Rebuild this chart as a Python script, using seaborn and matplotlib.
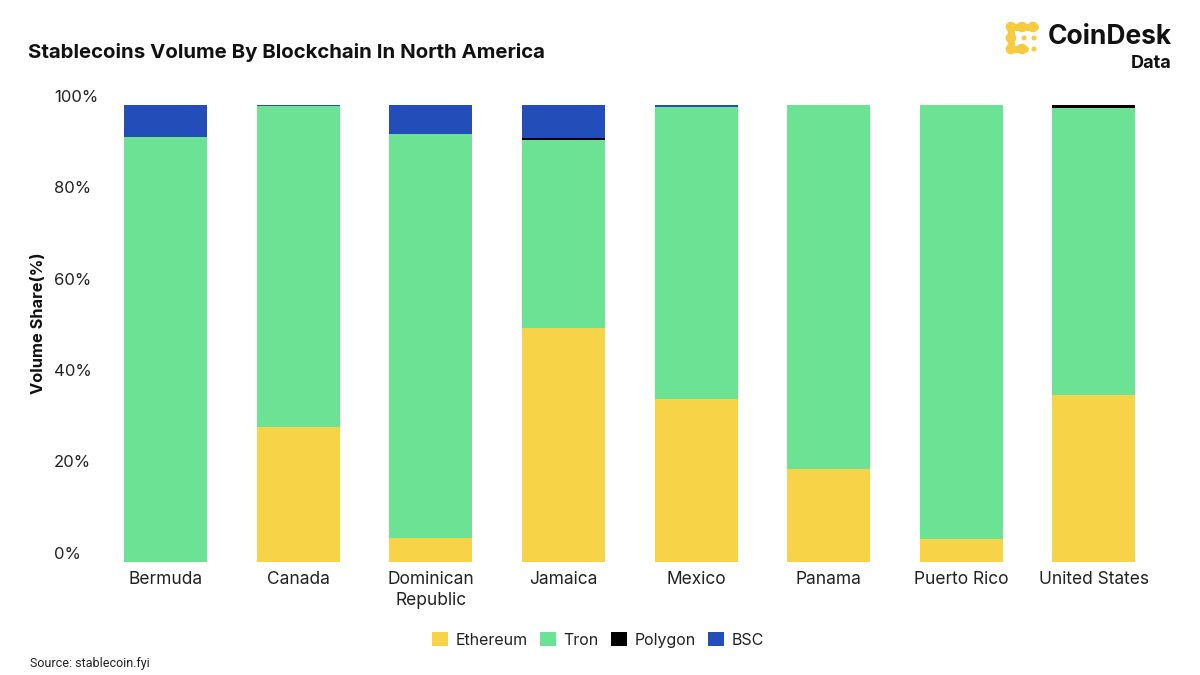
import matplotlib
matplotlib.use("Agg")
import matplotlib.pyplot as plt
import seaborn as sns
import pandas as pd
from matplotlib.patches import Patch, Circle
from matplotlib.transforms import ScaledTranslation
from matplotlib.ticker import FixedLocator, FuncFormatter

# ---------------- data ----------------
countries = ["Bermuda", "Canada", "Dominican\nRepublic", "Jamaica", "Mexico",
             "Panama", "Puerto Rico", "United States"]
ethereum = [0.0, 29.5, 5.2, 51.2, 35.6, 20.2, 4.9, 36.6]
tron = [92.9, 70.2, 88.4, 41.1, 64.0, 79.8, 95.1, 62.7]
polygon = [0.0, 0.0, 0.0, 0.4, 0.0, 0.0, 0.0, 0.6]
bsc = [7.1, 0.3, 6.4, 7.3, 0.4, 0.0, 0.0, 0.1]
series_names = ["Ethereum", "Tron", "Polygon", "BSC"]
series_colors = ["#F7D348", "#6CE294", "#000000", "#234DB8"]
y_ticks = [0, 20, 40, 60, 80, 100]

sns.set_theme(style="white")
plt.rcParams["font.family"] = ["Inter", "DejaVu Sans"]

W, H = 1200, 675
fig = plt.figure(figsize=(W / 100, H / 100), dpi=100)
fig.patch.set_facecolor("white")

ax_left, ax_right = 99.2, 1160.3
ax_top, ax_bottom = 105.0, 561.7
ax = fig.add_axes([ax_left / W, 1 - ax_bottom / H,
                   (ax_right - ax_left) / W, (ax_bottom - ax_top) / H])

df = pd.DataFrame({"country": countries, "Ethereum": ethereum, "Tron": tron,
                   "Polygon": polygon, "BSC": bsc})

bottom = [0.0] * len(countries)
for name, col in zip(series_names, series_colors):
    vals = df[name].tolist()
    sns.barplot(data=df, x="country", y=name, order=countries, color=col,
                width=0.626, bottom=bottom, linewidth=0, saturation=1,
                ax=ax)
    bottom = [b + v for b, v in zip(bottom, vals)]

ax.set_xlim(-0.5, len(countries) - 0.5)
ax.set_ylim(0, 100)
for s in ax.spines.values():
    s.set_visible(False)
ax.grid(False)
ax.set_xlabel("")

# y ticks
ax.yaxis.set_major_locator(FixedLocator(y_ticks))
ax.yaxis.set_major_formatter(FuncFormatter(lambda v, p: f"{int(v)}%"))
ax.tick_params(axis="y", length=0, pad=(ax_left - 54) * 0.72,
               labelsize=12, labelcolor="#222222")
ax.tick_params(axis="x", length=0, pad=7, labelsize=12.5, labelcolor="#222222")
for lab in ax.get_yticklabels():
    lab.set_horizontalalignment("left")
    lab.set_transform(lab.get_transform() +
                      ScaledTranslation(0, 9 / 100, fig.dpi_scale_trans))
for lab in ax.get_xticklabels():
    lab.set_linespacing(1.25)

ax.set_ylabel("Volume Share(%)", fontsize=11.8, fontweight="bold",
              color="#111111", va="center")
ax.yaxis.set_label_coords((39 - ax_left) / (ax_right - ax_left),
                          (ax_bottom - 323) / (ax_bottom - ax_top))

# title
fig.text(28 / W, 1 - 52 / H, "Stablecoins Volume By Blockchain In North America",
         fontsize=14.7, fontweight="bold", color="#111111", ha="left", va="center")

# legend
handles = [Patch(facecolor=c, edgecolor="none", label=n)
           for n, c in zip(series_names, series_colors)]
fig.legend(handles=handles, loc="center", bbox_to_anchor=(598 / W, 1 - 640 / H),
           ncol=4, frameon=False, handlelength=1.0, handleheight=1.0,
           handletextpad=0.45, columnspacing=0.8, fontsize=11.5,
           labelcolor="#222222")

# source
fig.text(30 / W, 1 - 664 / H, "Source: stablecoin.fyi", fontsize=9,
         color="#222222", ha="left", va="center", family=["Roboto", "DejaVu Sans"])

# logo
fig.text(1172 / W, 1 - 37 / H, "CoinDesk", fontsize=19, fontweight="bold",
         color="#111111", ha="right", va="center")
fig.text(1172 / W, 1 - 63.5 / H, "Data", fontsize=13, fontweight="bold",
         color="#111111", ha="right", va="center")
lax = fig.add_axes([1005 / W, 1 - 55 / H, 34 / W, 34 / H])
lax.set_xlim(0, 34)
lax.set_ylim(34, 0)
lax.axis("off")
yel = "#F7CB3F"
lw = 7 * 0.72
lax.plot([6, 30], [6, 6], color=yel, lw=lw, solid_capstyle="round")
lax.plot([6, 6], [6, 28], color=yel, lw=lw, solid_capstyle="round")
lax.plot([6, 20], [28, 28], color=yel, lw=lw, solid_capstyle="round")
for (cx, cy) in [(6, 6), (17, 6), (28, 6), (6, 17), (6, 28), (17, 28)]:
    lax.add_patch(Circle((cx, cy), 4.6, color=yel))
for (cx, cy) in [(19, 17), (29, 17), (29, 28)]:
    lax.add_patch(Circle((cx, cy), 1.8, color=yel))

fig.savefig("out.png", dpi=100, facecolor="white")
